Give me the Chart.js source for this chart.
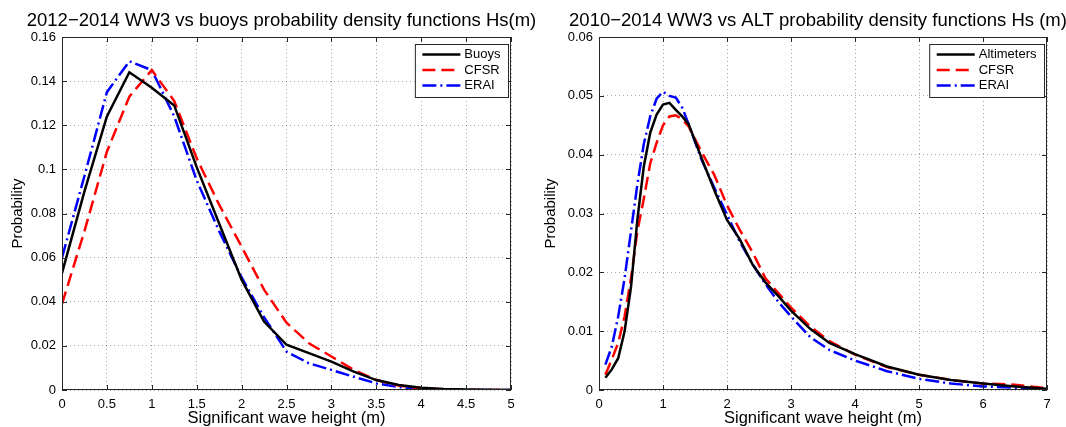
<!DOCTYPE html>
<html>
<head>
<meta charset="utf-8">
<script src="https://cdn.jsdelivr.net/npm/chart.js@4.4.1/dist/chart.umd.min.js"></script>
<style>
  html, body { margin: 0; padding: 0; background: #fff; overflow: hidden; }
  #wrap { position: relative; width: 1066px; height: 427px; overflow: hidden; }
  .pane { position: absolute; top: 0; height: 427px; }
</style>
</head>
<body>
<div id="wrap">
  <div class="pane" style="left:0;width:564px"><canvas id="buoyChart"></canvas></div>
  <div class="pane" style="left:533px;width:574px"><canvas id="altChart"></canvas></div>
</div>
<script>
// left panel: buoys, 2012-2014
const buoyHs = [0, 0.25, 0.5, 0.75, 1, 1.25, 1.5, 1.75, 2, 2.25, 2.5, 2.75, 3, 3.25, 3.5, 3.75, 4, 4.25, 4.5, 4.75, 5];
const buoysPdf = [0.053, 0.090, 0.124, 0.144, 0.137, 0.129, 0.101, 0.0755, 0.050, 0.031, 0.0205, 0.0167, 0.0129, 0.0083, 0.0045, 0.0023, 0.001, 0.0004, 0.0002, 0.0001, 0];
const cfsrBuoyPdf = [0.039, 0.072, 0.108, 0.133, 0.145, 0.131, 0.105, 0.084, 0.065, 0.0455, 0.0305, 0.0212, 0.0152, 0.0091, 0.0045, 0.002, 0.0008, 0.0003, 0.0001, 0, 0];
const eraiBuoyPdf = [0.060, 0.097, 0.135, 0.149, 0.145, 0.124, 0.095, 0.072, 0.051, 0.033, 0.0174, 0.0121, 0.0091, 0.006, 0.003, 0.0013, 0.0005, 0.0001, 0, 0, 0];

// right panel: altimeters, 2010-2014
const altHs = [0.1, 0.2, 0.3, 0.4, 0.5, 0.6, 0.7, 0.8, 0.9, 1.0, 1.1, 1.2, 1.3, 1.4, 1.6, 1.8, 2.0, 2.2, 2.4, 2.6, 2.8, 3.0, 3.3, 3.6, 4.0, 4.5, 5.0, 5.5, 6.0, 6.5, 7.0];
const altimetersPdf = [0.0021, 0.0035, 0.0054, 0.0100, 0.0175, 0.0290, 0.0380, 0.0437, 0.0468, 0.0485, 0.0488, 0.0476, 0.0465, 0.0452, 0.0395, 0.0340, 0.0289, 0.0256, 0.0213, 0.0183, 0.0160, 0.0135, 0.0104, 0.0080, 0.0061, 0.0040, 0.0026, 0.0017, 0.0011, 0.0006, 0.0002];
const cfsrAltPdf = [0.0026, 0.0052, 0.0080, 0.0125, 0.0190, 0.0270, 0.0325, 0.0385, 0.0420, 0.0450, 0.0465, 0.0467, 0.0460, 0.0448, 0.0405, 0.0366, 0.0314, 0.0272, 0.0234, 0.0190, 0.0165, 0.0140, 0.0108, 0.0083, 0.0060, 0.0039, 0.0026, 0.0017, 0.0011, 0.0009, 0.0003];
const eraiAltPdf = [0.0043, 0.0074, 0.0125, 0.0190, 0.0270, 0.0350, 0.0418, 0.0465, 0.0495, 0.0507, 0.0500, 0.0497, 0.0480, 0.0452, 0.0392, 0.0344, 0.0298, 0.0252, 0.0214, 0.0180, 0.0150, 0.0125, 0.0090, 0.0068, 0.0050, 0.0032, 0.0019, 0.0011, 0.0006, 0.0004, 0];

// tick values
const buoyXTicks = [0, 0.5, 1, 1.5, 2, 2.5, 3, 3.5, 4, 4.5, 5];
const buoyYTicks = [0, 0.02, 0.04, 0.06, 0.08, 0.1, 0.12, 0.14, 0.16];
const altXTicks = [0, 1, 2, 3, 4, 5, 6, 7];
const altYTicks = [0, 0.01, 0.02, 0.03, 0.04, 0.05, 0.06];

const FONT = "'Liberation Sans', Arial, Helvetica, sans-serif";

function pts(xs, ys) {
  return xs.map((x, i) => ({ x: x, y: ys[i] }));
}

function series(label, xs, ys, color, dash) {
  return {
    label: label,
    data: pts(xs, ys),
    borderColor: color,
    backgroundColor: color,
    borderWidth: 2.5,
    borderDash: dash,
    pointRadius: 0,
    tension: 0,
    fill: false
  };
}

// title, box, inner ticks and legend, matlab style
const matlabFrame = {
  id: 'matlabFrame',
  afterDraw(chart, args, opts) {
    const { ctx, chartArea: a, scales: { x, y } } = chart;
    ctx.save();

    // title (centred a bit left of the plot middle, as in the figure)
    ctx.font = '18.5px ' + FONT;
    ctx.fillStyle = '#000';
    ctx.textAlign = 'center';
    ctx.textBaseline = 'middle';
    ctx.fillText(opts.title, (a.left + a.right) / 2 + opts.titleShift, 21);

    ctx.strokeStyle = '#262626';
    ctx.lineWidth = 1;
    ctx.setLineDash([]);
    ctx.beginPath();
    x.ticks.forEach(t => {
      const px = Math.round(x.getPixelForValue(t.value)) + 0.5;
      ctx.moveTo(px, a.bottom); ctx.lineTo(px, a.bottom - 5);
      ctx.moveTo(px, a.top); ctx.lineTo(px, a.top + 5);
    });
    y.ticks.forEach(t => {
      const py = Math.round(y.getPixelForValue(t.value)) + 0.5;
      ctx.moveTo(a.left, py); ctx.lineTo(a.left + 5, py);
      ctx.moveTo(a.right, py); ctx.lineTo(a.right - 5, py);
    });
    ctx.stroke();
    ctx.strokeRect(Math.round(a.left) + 0.5, Math.round(a.top) + 0.5, Math.round(a.width) - 1, Math.round(a.height) - 1);

    // legend
    const sets = chart.data.datasets;
    ctx.font = '13px ' + FONT;
    let tw = 0;
    sets.forEach(d => { tw = Math.max(tw, ctx.measureText(d.label).width); });
    const w = 7 + 38 + 4 + tw + 8;
    const right = Math.round(a.right) - 2.5;
    const left = right - w;
    const top = Math.round(a.top) + 7.5;
    const h = 53;
    ctx.fillStyle = '#fff';
    ctx.fillRect(left, top, w, h);
    ctx.strokeStyle = '#262626';
    ctx.lineWidth = 1;
    ctx.strokeRect(left, top, w, h);
    sets.forEach((d, i) => {
      const ry = top + 10 + i * 15.5;
      ctx.strokeStyle = d.borderColor;
      ctx.lineWidth = d.borderWidth;
      ctx.setLineDash(d.borderDash || []);
      ctx.beginPath();
      ctx.moveTo(left + 7, ry);
      ctx.lineTo(left + 45, ry);
      ctx.stroke();
      ctx.setLineDash([]);
      ctx.fillStyle = '#000';
      ctx.textBaseline = 'middle';
      ctx.textAlign = 'left';
      ctx.fillText(d.label, left + 49, ry);
    });
    ctx.restore();
  }
};

function makeChart(el, cfg) {
  return new Chart(el, {
    type: 'line',
    data: { datasets: cfg.datasets },
    options: {
      responsive: true,
      maintainAspectRatio: false,
      animation: false,
      layout: { padding: { left: 0, right: cfg.padRight, top: 37, bottom: 0 } },
      plugins: {
        legend: { display: false },
        tooltip: { enabled: false },
        title: { display: false },
        matlabFrame: { title: cfg.title, titleShift: cfg.titleShift }
      },
      scales: {
        x: {
          type: 'linear',
          min: cfg.xTicks[0],
          max: cfg.xTicks[cfg.xTicks.length - 1],
          afterBuildTicks: s => { s.ticks = cfg.xTicks.map(v => ({ value: v })); },
          afterFit: s => { s.height = 37; },
          grid: { color: 'rgba(0,0,0,0.35)', lineWidth: 1, drawTicks: false },
          border: { display: false, dash: [1, 3] },
          ticks: {
            color: '#000',
            padding: 7,
            maxRotation: 0,
            autoSkip: false,
            font: { family: FONT, size: 13 },
            callback: v => String(+v.toFixed(3))
          },
          title: {
            display: true,
            text: 'Significant wave height (m)',
            color: '#000',
            font: { family: FONT, size: 16.5 },
            padding: { top: 0, bottom: -1 }
          }
        },
        y: {
          min: cfg.yTicks[0],
          max: cfg.yTicks[cfg.yTicks.length - 1],
          afterBuildTicks: s => { s.ticks = cfg.yTicks.map(v => ({ value: v })); },
          afterFit: s => { s.width = cfg.yWidth; },
          grid: { color: 'rgba(0,0,0,0.35)', lineWidth: 1, drawTicks: false },
          border: { display: false, dash: [1, 3] },
          ticks: {
            color: '#000',
            padding: 6,
            autoSkip: false,
            font: { family: FONT, size: 13 },
            callback: v => String(+v.toFixed(4))
          },
          title: {
            display: true,
            text: 'Probability',
            color: '#000',
            font: { family: FONT, size: 15 },
            padding: { top: 9, bottom: 0 }
          }
        }
      }
    },
    plugins: [matlabFrame]
  });
}

makeChart(document.getElementById('buoyChart'), {
  title: '2012\u22122014 WW3 vs buoys probability density functions Hs(m)',
  titleShift: -5,
  datasets: [
    series('Buoys', buoyHs, buoysPdf, '#000000', []),
    series('CFSR', buoyHs, cfsrBuoyPdf, '#ff0000', [13, 6]),
    series('ERAI', buoyHs, eraiBuoyPdf, '#0000ff', [14, 4, 2, 4])
  ],
  xTicks: buoyXTicks,
  yTicks: buoyYTicks,
  yWidth: 62,
  padRight: 53
});

makeChart(document.getElementById('altChart'), {
  title: '2010\u22122014 WW3 vs ALT probability density functions Hs (m)',
  titleShift: -5,
  datasets: [
    series('Altimeters', altHs, altimetersPdf, '#000000', []),
    series('CFSR', altHs, cfsrAltPdf, '#ff0000', [13, 6]),
    series('ERAI', altHs, eraiAltPdf, '#0000ff', [14, 4, 2, 4])
  ],
  xTicks: altXTicks,
  yTicks: altYTicks,
  yWidth: 66,
  padRight: 60
});
</script>
</body>
</html>
